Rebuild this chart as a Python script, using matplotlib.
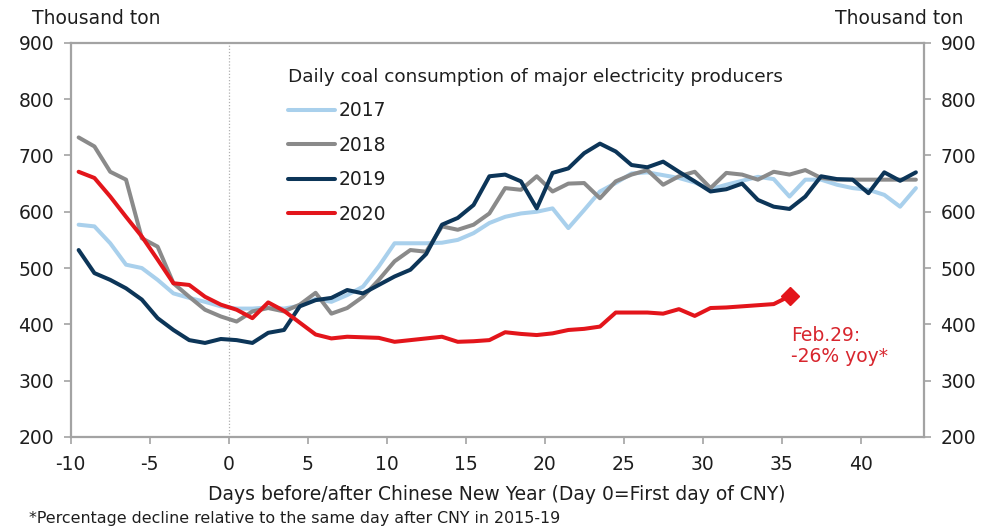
import matplotlib
matplotlib.use("Agg")
import matplotlib.pyplot as plt
import numpy as np

plt.rcParams['font.family'] = ['DejaVu Sans']
plt.rcParams['axes.unicode_minus'] = False

# days relative to CNY (day 0 = first day of CNY)
days = list(range(-10, 44))

# thousand ton
coal_2017 = [577, 574, 544, 506, 500, 479, 455, 447, 440, 432, 428,
             428, 430, 428, 433, 445, 440, 452, 467, 503, 544,
             544, 544, 545, 550, 562, 580, 591, 597, 600, 606,
             571, 603, 636, 651, 668, 670, 665, 660, 652, 640,
             648, 655, 662, 658, 627, 657, 657, 648, 642, 639,
             630, 609, 642]
coal_2018 = [732, 716, 671, 657, 553, 538, 473, 449, 426, 414, 405,
             423, 429, 423, 435, 456, 419, 429, 449, 479, 512,
             532, 529, 574, 568, 577, 597, 642, 639, 663, 636,
             650, 651, 624, 654, 666, 674, 648, 663, 671, 642,
             669, 666, 657, 671, 666, 674, 660, 657, 657, 657,
             657, 657, 657]
coal_2019 = [532, 491, 479, 464, 444, 411, 390, 372, 367, 374, 372,
             367, 385, 390, 432, 443, 447, 461, 455, 470, 485,
             497, 525, 577, 589, 612, 663, 666, 654, 606, 669,
             677, 704, 721, 707, 683, 679, 689, 671, 654, 636,
             640, 650, 621, 609, 605, 627, 663, 658, 657, 633,
             670, 655, 670]
coal_2020 = [671, 660, 627, 591, 556, 515, 473, 470, 449, 435, 426,
             411, 439, 424, 403, 382, 375, 378, 377, 376, 369,
             372, 375, 378, 369, 370, 372, 386, 383, 381, 384,
             390, 392, 396, 421, 421, 421, 419, 427, 415, 429,
             430, 432, 434, 436, 450]

series = [
    ("2017", coal_2017, "#a9d0ec"),
    ("2018", coal_2018, "#8a8a8a"),
    ("2019", coal_2019, "#0c3558"),
    ("2020", coal_2020, "#e3151b"),
]

fig = plt.figure(figsize=(9.88, 5.29), dpi=100)
ax = fig.add_axes([0.0716, 0.174, 0.8634, 0.745])

# points sit in the middle of each day slot
x = np.array(days) + 0.5
for label, vals, color in series:
    ax.plot(x[:len(vals)], vals, color=color, lw=2.9, label=label,
            solid_joinstyle="round", solid_capstyle="round")

# last 2020 point
ax.plot(x[len(coal_2020) - 1], coal_2020[-1], marker="D", ms=9,
        color="#e3151b", mec="#e3151b")
ax.text(x[len(coal_2020) - 1] + 0.1, 397, "Feb.29:\n-26% yoy*", color="#d8262e",
        fontsize=13.5, ha="left", va="top", linespacing=1.1)

ax.axvline(0, color="#b0b0b0", lw=0.9, ls=(0, (1, 1.5)), zorder=0)

ax.set_xlim(-10, 44)
ax.set_ylim(200, 900)
ax.set_xticks(range(-10, 41, 5))
ax.set_yticks(range(200, 901, 100))

spine_color = "#a3a3a3"
for s in ax.spines.values():
    s.set_color(spine_color)
    s.set_linewidth(1.6)

ax.tick_params(axis="both", colors=spine_color, labelcolor="#1e1e1e",
               labelsize=13.5, length=5, width=1.2, direction="out")
ax.tick_params(axis="x", pad=8)
ax.tick_params(axis="y", pad=7, labelright=True, right=True)

ax.text(-0.045, 1.037, "Thousand ton", transform=ax.transAxes, fontsize=13.5,
        ha="left", va="bottom", color="#1e1e1e")
ax.text(1.046, 1.037, "Thousand ton", transform=ax.transAxes, fontsize=13.5,
        ha="right", va="bottom", color="#1e1e1e")

leg = ax.legend(loc="upper left", bbox_to_anchor=(0.2455, 0.955), frameon=False,
                title="Daily coal consumption of major electricity producers",
                title_fontsize=13.3, fontsize=13.5, alignment="left",
                handlelength=2.55, handletextpad=0.15, labelspacing=0.82,
                borderaxespad=0)
leg.get_title().set_color("#1e1e1e")
for t in leg.get_texts():
    t.set_color("#1e1e1e")

fig.text(0.503, 0.048, "Days before/after Chinese New Year (Day 0=First day of CNY)",
         fontsize=13.5, ha="center", va="bottom", color="#1e1e1e")
fig.text(0.029, 0.005, "*Percentage decline relative to the same day after CNY in 2015-19",
         fontsize=11.4, ha="left", va="bottom", color="#1e1e1e")

fig.savefig("out.png", dpi=100)
